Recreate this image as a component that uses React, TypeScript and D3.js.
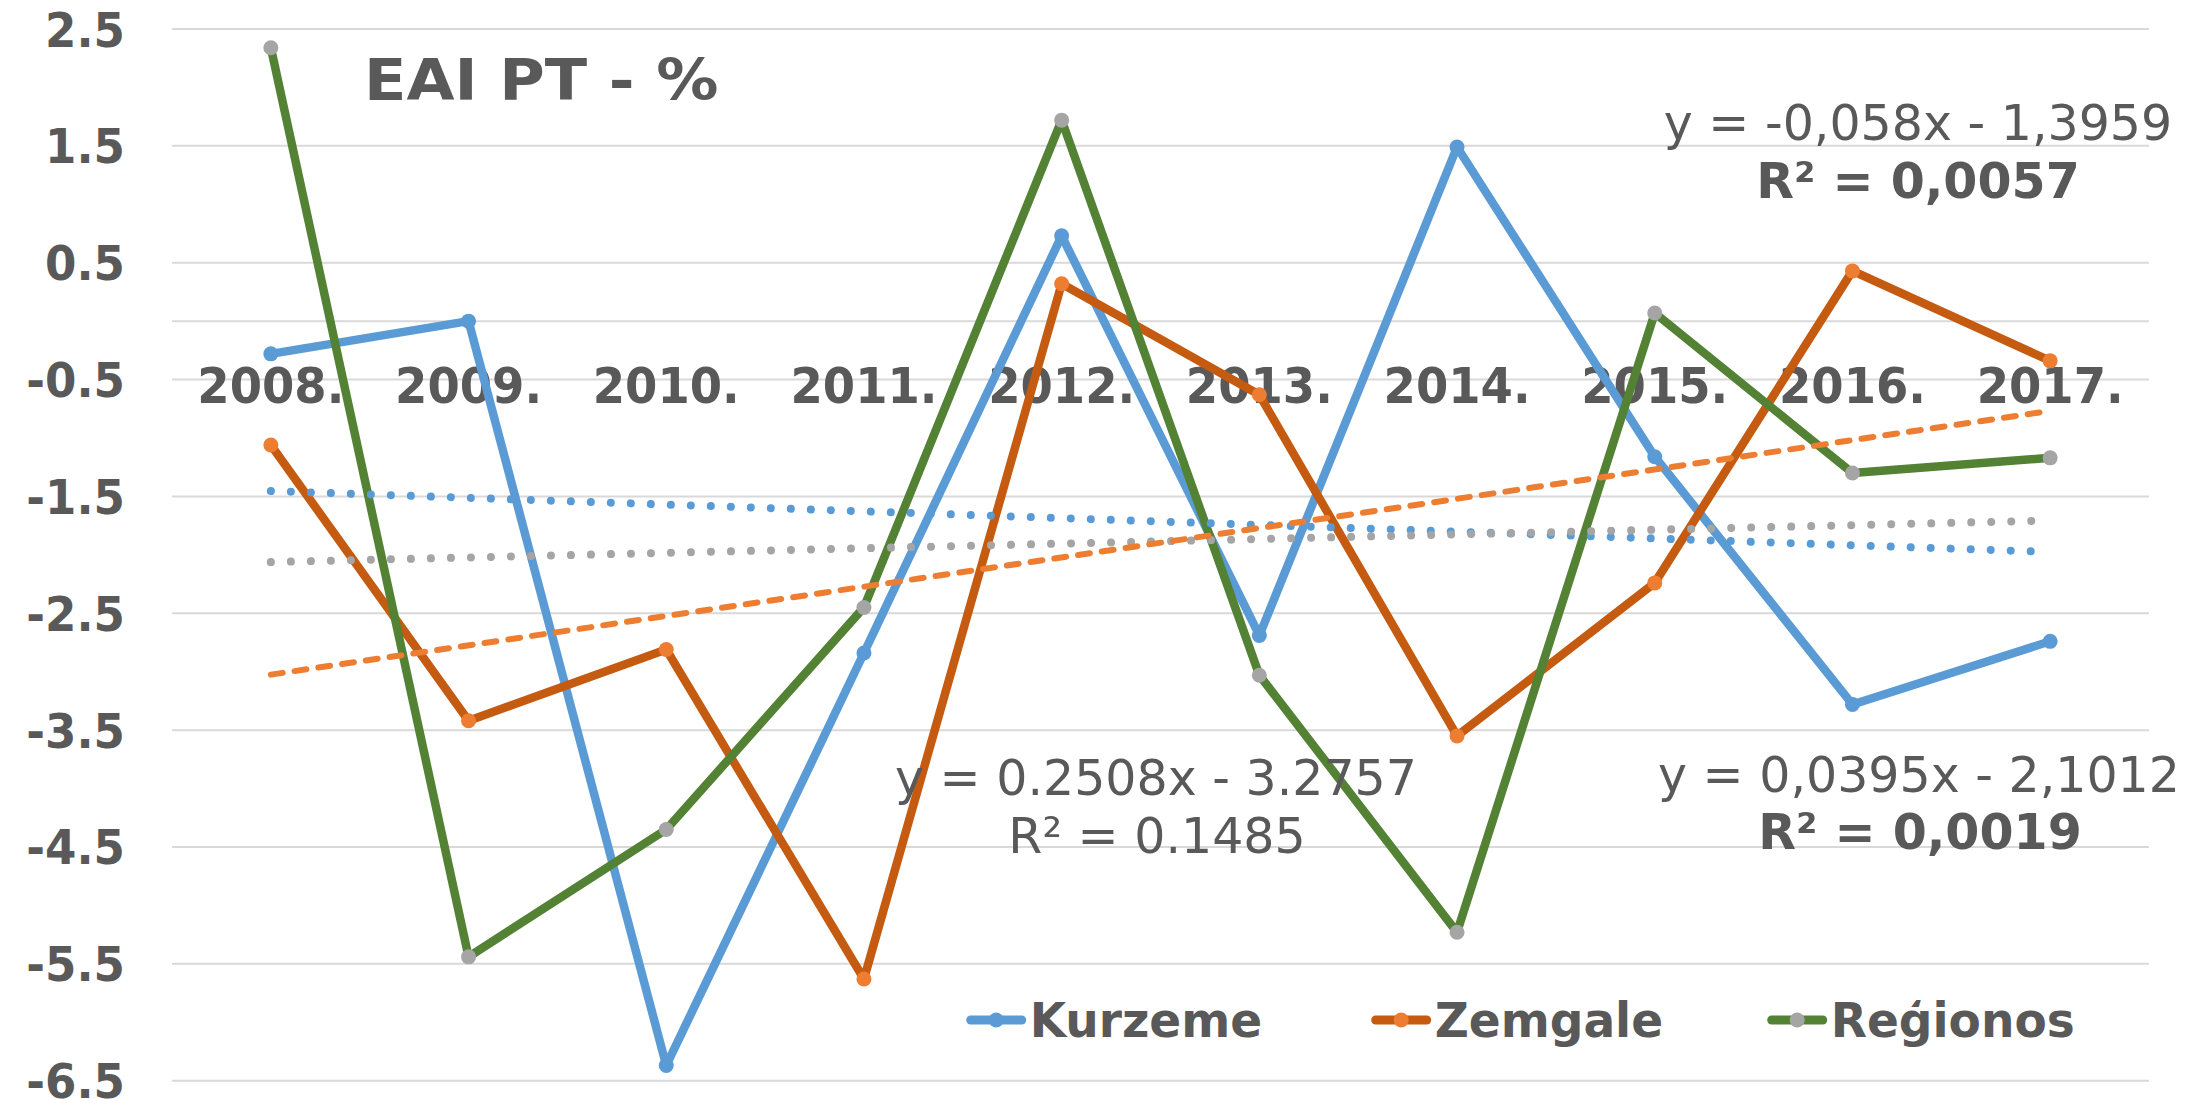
import React from 'react';
import * as d3 from 'd3';

// ---- data ----
const categories = ['2008.', '2009.', '2010.', '2011.', '2012.', '2013.', '2014.', '2015.', '2016.', '2017.'];
const kurzeme = [-0.28, 0.0, -6.37, -2.84, 0.73, -2.69, 1.49, -1.16, -3.28, -2.74];
const zemgale = [-1.06, -3.42, -2.81, -5.63, 0.32, -0.63, -3.55, -2.24, 0.43, -0.34];
const regionos = [2.34, -5.44, -4.35, -2.45, 1.72, -3.03, -5.23, 0.07, -1.30, -1.17];
const yTickValues = [2.5, 1.5, 0.5, -0.5, -1.5, -2.5, -3.5, -4.5, -5.5, -6.5];
const kurzemeTrend = [-0.058, -1.3959];
const zemgaleTrend = [0.2508, -3.2757];
const regionosTrend = [0.0395, -2.1012];
const seriesNames = ['Kurzeme', 'Zemgale', 'Reģionos'];
const title = 'EAI PT - %';

// ---- layout ----
const W = 2208;
const H = 1099;
const plotLeft = 172;
const plotRight = 2149;
const yTop = 29;
const yBottom = 1080.7;
const FONT = '"DejaVu Sans", Verdana, sans-serif';
const TEXT = '#595959';
const GRID = '#D9D9D9';

const styles = [
  { line: '#5B9BD5', marker: '#5B9BD5' },
  { line: '#C55A11', marker: '#ED7D31' },
  { line: '#548235', marker: '#A5A5A5' },
];

const tr = (x: number, y: number, sx: number) => `translate(${x},${y}) scale(${sx},1)`;

export default function App() {
  const x = d3.scaleBand<string>().domain(categories).range([plotLeft, plotRight]);
  const cx = (c: string) => (x(c) as number) + x.bandwidth() / 2;
  const y = d3.scaleLinear().domain([-6.5, 2.5]).range([yBottom, yTop]);

  const lineGen = d3
    .line<number>()
    .x((_, i) => cx(categories[i]))
    .y((v) => y(v));

  const seriesData = [kurzeme, zemgale, regionos];

  const trendPath = (coef: number[]) => {
    const pts = categories.map((c, i) => [cx(c), y(coef[0] * (i + 1) + coef[1])] as [number, number]);
    return d3.line()([pts[0], pts[pts.length - 1]]) as string;
  };

  const legendX = [966.7, 1371.7, 1767.7];
  const legendY = 1020;

  return (
    <svg
      width={W}
      height={H}
      viewBox={`0 0 ${W} ${H}`}
      style={{ position: 'absolute', left: 0, top: 0, background: '#fff' }}
    >
      <rect x={0} y={0} width={W} height={H} fill="#fff" />
      {/* gridlines */}
      {yTickValues.map((v) => (
        <line key={'g' + v} x1={plotLeft} x2={plotRight} y1={y(v)} y2={y(v)} stroke={GRID} strokeWidth={2} />
      ))}
      {/* category axis line at 0 */}
      <line x1={plotLeft} x2={plotRight} y1={y(0)} y2={y(0)} stroke={GRID} strokeWidth={2} />

      {/* y tick labels */}
      {yTickValues.map((v) => (
        <text
          key={'t' + v}
          transform={tr(125, y(v) + 17.5, 0.94)}
          textAnchor="end"
          fontFamily={FONT}
          fontWeight="bold"
          fontSize={48}
          fill={TEXT}
        >
          {v.toFixed(1)}
        </text>
      ))}

      {/* category labels */}
      {categories.map((c) => (
        <text
          key={'c' + c}
          transform={tr(cx(c), 403, 0.93)}
          textAnchor="middle"
          fontFamily={FONT}
          fontWeight="bold"
          fontSize={50}
          fill={TEXT}
        >
          {c}
        </text>
      ))}

      {/* title */}
      <text transform={tr(364, 100, 1.09)} fontFamily={FONT} fontWeight="bold" fontSize={57} fill={TEXT}>
        {title}
      </text>

      {/* series */}
      {seriesData.map((data, si) => (
        <g key={'s' + si}>
          <path
            d={lineGen(data) as string}
            fill="none"
            stroke={styles[si].line}
            strokeWidth={8.5}
            strokeLinejoin="round"
            strokeLinecap="round"
          />
          {data.map((v, i) => (
            <circle key={i} cx={cx(categories[i])} cy={y(v)} r={7.5} fill={styles[si].marker} />
          ))}
        </g>
      ))}

      {/* trendlines */}
      <path
        d={trendPath(kurzemeTrend)}
        fill="none"
        stroke="#5B9BD5"
        strokeWidth={8}
        strokeLinecap="round"
        strokeDasharray="0.01 20"
      />
      <path
        d={trendPath(regionosTrend)}
        fill="none"
        stroke="#A5A5A5"
        strokeWidth={8}
        strokeLinecap="round"
        strokeDasharray="0.01 20"
      />
      <path
        d={trendPath(zemgaleTrend)}
        fill="none"
        stroke="#ED7D31"
        strokeWidth={6}
        strokeLinecap="round"
        strokeDasharray="12 12"
      />

      {/* trendline equations */}
      <g fontFamily={FONT} fill={TEXT} textAnchor="middle" fontSize={50}>
        <text transform={tr(1918, 140, 0.98)}>y = -0,058x - 1,3959</text>
        <text transform={tr(1918, 198, 0.98)} fontWeight="bold">R² = 0,0057</text>
        <text transform={tr(1156, 795, 0.98)}>y = 0.2508x - 3.2757</text>
        <text transform={tr(1157, 853, 0.98)}>R² = 0.1485</text>
        <text transform={tr(1919, 792, 0.98)}>y = 0,0395x - 2,1012</text>
        <text transform={tr(1920, 849, 0.98)} fontWeight="bold">R² = 0,0019</text>
      </g>

      {/* legend */}
      {seriesNames.map((name, si) => {
        const lx = legendX[si];
        return (
          <g key={'l' + si}>
            <line
              x1={lx + 4}
              x2={lx + 55}
              y1={legendY}
              y2={legendY}
              stroke={styles[si].line}
              strokeWidth={9}
              strokeLinecap="round"
            />
            <circle cx={lx + 29.5} cy={legendY} r={7.5} fill={styles[si].marker} />
            <text
              transform={tr(lx + 63, 1036.7, 0.98)}
              fontFamily={FONT}
              fontWeight="bold"
              fontSize={48}
              fill={TEXT}
            >
              {name}
            </text>
          </g>
        );
      })}
    </svg>
  );
}
